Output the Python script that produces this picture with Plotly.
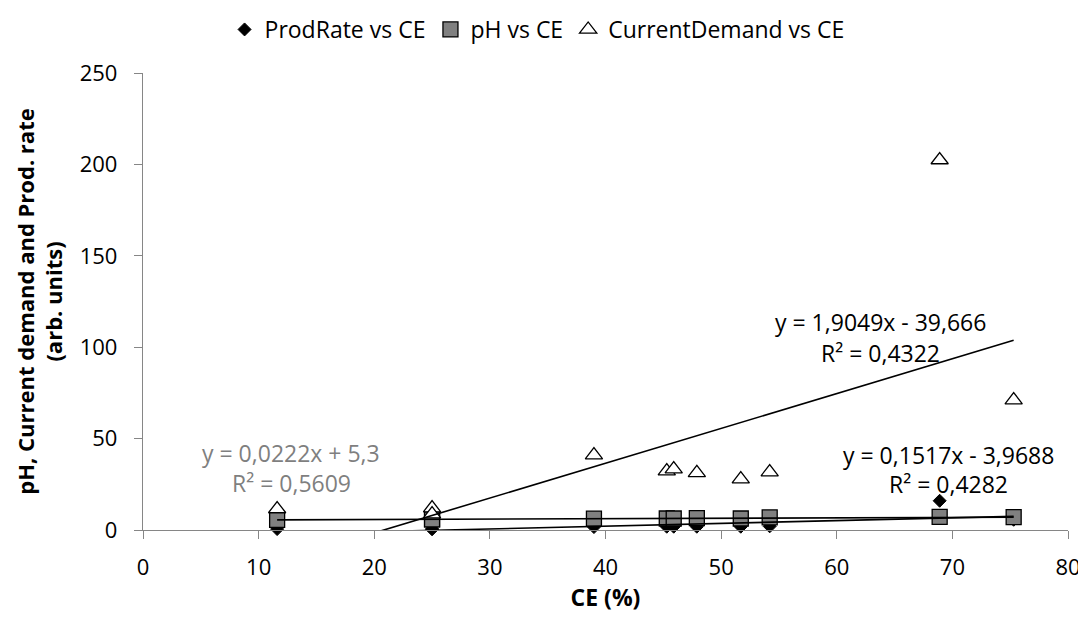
import plotly.graph_objects as go

# ---- data ----
ce = [11.6, 25.0, 25.0, 39.0, 45.3, 45.9, 47.9, 51.7, 54.2, 68.9, 75.3]
prod_rate = [0.5, 0.5, 0.5, 1.6, 1.8, 1.8, 1.8, 1.8, 2.0, 16.0, 5.6]
ph = [5.5, 5.8, 5.8, 6.2, 6.3, 6.3, 6.5, 6.3, 6.9, 7.2, 7.0]
current_demand = [11.5, 12.0, 8.7, 41.0, 32.2, 33.3, 31.3, 27.8, 31.7, 202.4, 71.1]

series_names = ["ProdRate vs CE", "pH vs CE", "CurrentDemand vs CE"]

# trendline coefficients (slope, intercept) as printed on the chart
trend_prod = (0.1517, -3.9688)
trend_ph = (0.0222, 5.3)
trend_cd = (1.9049, -39.666)

label_prod = ["y = 0,1517x - 3,9688", "R² = 0,4282"]
label_ph = ["y = 0,0222x + 5,3", "R² = 0,5609"]
label_cd = ["y = 1,9049x - 39,666", "R² = 0,4322"]

x_ticks = [0, 10, 20, 30, 40, 50, 60, 70, 80]
y_ticks = [0, 50, 100, 150, 200, 250]

FONT = "Open Sans"
AXIS_COLOR = "#868686"
TXT = 22

fig = go.Figure()

# series markers
fig.add_trace(go.Scatter(
    x=ce, y=prod_rate, mode="markers", name=series_names[0],
    marker=dict(symbol="diamond", size=10, color="black",
                line=dict(color="black", width=1)),
    cliponaxis=False))
fig.add_trace(go.Scatter(
    x=ce, y=ph, mode="markers", name=series_names[1],
    marker=dict(symbol="square", size=15, color="#808080",
                line=dict(color="black", width=1.3)),
    cliponaxis=False))
fig.add_trace(go.Scatter(
    x=ce, y=current_demand, mode="markers", name=series_names[2],
    marker=dict(symbol="triangle-up", size=15, color="white",
                line=dict(color="black", width=1.3)),
    cliponaxis=False))

# trendlines
xmin, xmax = min(ce), max(ce)
for (m, b) in (trend_prod, trend_ph, trend_cd):
    fig.add_trace(go.Scatter(
        x=[xmin, xmax], y=[m * xmin + b, m * xmax + b], mode="lines",
        line=dict(color="black", width=1.6), showlegend=False,
        hoverinfo="skip"))

# trendline labels
def add_label(lines, x, y1, y2, color):
    for txt, yy in ((lines[0], y1), (lines[1], y2)):
        fig.add_annotation(x=x, y=yy, text=txt, showarrow=False,
                           font=dict(family=FONT, size=23, color=color),
                           xanchor="center", yanchor="middle")

add_label(label_cd, 63.8, 114.0, 97.0, "black")
add_label(label_prod, 69.7, 41.0, 25.3, "black")
add_label(label_ph, 12.8, 42.0, 25.5, "#7f7f7f")

# the page body adds an 8px margin, so the figure is sized to fit the window
fig.update_layout(
    width=1078, height=613,
    margin=dict(l=135, r=18, t=65, b=91),
    paper_bgcolor="white", plot_bgcolor="white",
    font=dict(family=FONT, size=TXT, color="black"),
    showlegend=True,
    legend=dict(orientation="h", x=0.426, xanchor="center",
                yref="container", y=1.0, yanchor="top",
                font=dict(family=FONT, size=23, color="black"),
                itemwidth=30, bgcolor="rgba(0,0,0,0)"),
    xaxis=dict(range=[0, 80], tickvals=x_ticks, showgrid=False, zeroline=False,
               automargin=False,
               showline=True, linecolor=AXIS_COLOR, linewidth=1.3,
               ticks="outside", ticklen=8, tickcolor=AXIS_COLOR, tickwidth=1.3,
               ticklabelstandoff=9,
               tickfont=dict(family=FONT, size=TXT, color="black"),
               title=dict(text="<b>CE (%)</b>", standoff=8,
                          font=dict(family=FONT, size=23, color="black"))),
    yaxis=dict(range=[0, 250], tickvals=y_ticks, showgrid=False, zeroline=False,
               automargin=False,
               showline=True, linecolor=AXIS_COLOR, linewidth=1.3,
               ticks="outside", ticklen=8, tickcolor=AXIS_COLOR, tickwidth=1.3,
               ticklabelstandoff=12,
               tickfont=dict(family=FONT, size=TXT, color="black"),
               title=dict(text="<b>pH, Current demand and Prod. rate<br>(arb. units)</b>",
                          standoff=10,
                          font=dict(family=FONT, size=22, color="black"))),
)

fig.write_html("out.html")
